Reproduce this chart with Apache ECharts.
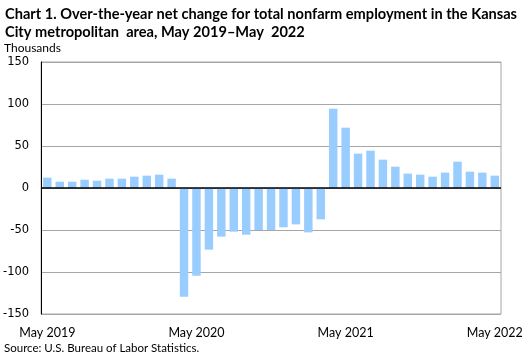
<!DOCTYPE html>
<html><head><meta charset="utf-8">
<script src="https://cdn.jsdelivr.net/npm/echarts@6/dist/echarts.min.js"></script>
<style>html,body{margin:0;padding:0;background:#fff}#c{width:530px;height:357px}</style>
</head><body><div id="c"></div>
<script>
const months = ['Jun','Jul','Aug','Sep','Oct','Nov','Dec','Jan','Feb','Mar','Apr','May'];
const categories = [];
(function(){
  let y = 2019;
  categories.push('May 2019');
  for (let k = 0; k < 36; k++) {
    const m = months[k % 12];
    if (m === 'Jan') y++;
    categories.push(m + ' ' + y);
  }
})();
const values = [12.3, 7.5, 7.5, 9.9, 8.7, 11.1, 11.1, 13.5, 14.7, 15.9, 11.1,
  -129.4, -104.4, -73.4, -57.9, -52.0, -55.6, -50.0, -50.0, -46.8, -43.3, -52.8, -37.3,
  94.4, 71.8, 40.9, 44.4, 33.7, 25.4, 17.1, 15.9, 13.5, 18.3, 31.3, 19.4, 18.3, 14.7];
const yTicks = [-150, -100, -50, 0, 50, 100, 150];
const titleText = 'Chart 1. Over-the-year net change for total nonfarm employment in the Kansas\nCity metropolitan  area, May 2019\u2013May  2022';

const chart = echarts.init(document.getElementById('c'), null, {renderer:'canvas'});
chart.setOption({
  animation: false,
  title: [{
    text: titleText, left: 5, top: 5, padding: 0,
    textStyle: {fontFamily: 'Lato', fontWeight: 'bold', fontSize: 14.6, lineHeight: 18.5, color: '#000'}
  },{
    text: 'Thousands', left: 4, top: 42, padding: 0,
    textStyle: {fontFamily: 'Lato', fontWeight: 'normal', fontSize: 12, color: '#000'}
  },{
    text: 'Source: U.S. Bureau of Labor Statistics.', left: 4, top: 342, padding: 0,
    textStyle: {fontFamily: 'Lato', fontWeight: 'normal', fontSize: 11.5, color: '#000'}
  }],
  grid: {left: 39, right: 29, top: 62, bottom: 43, show: true, borderColor: '#a6a6a6', borderWidth: 1},
  xAxis: {
    type: 'category', data: categories,
    axisLine: {show: false, onZero: false},
    axisTick: {show: false},
    axisLabel: {interval: 11, color: '#000', fontFamily: 'Lato', fontSize: 12.5, margin: 12},
    splitLine: {show: false}
  },
  yAxis: {
    type: 'value', min: yTicks[0], max: yTicks[yTicks.length-1], interval: 50,
    axisLine: {show: true, lineStyle: {color: '#000', width: 1}},
    axisTick: {show: false},
    axisLabel: {color: '#000', fontFamily: 'DejaVu Sans', fontSize: 11.5, margin: 12},
    splitLine: {lineStyle: {color: '#a6a6a6', width: 1}}
  },
  series: [{
    type: 'bar', data: values, barWidth: '68%',
    itemStyle: {color: '#99ccff'},
    markLine: {silent: true, symbol: 'none', label: {show: false},
      lineStyle: {color: '#000', type: 'solid', width: 1.5},
      data: [{yAxis: 0}]}
  }]
});
</script></body></html>
